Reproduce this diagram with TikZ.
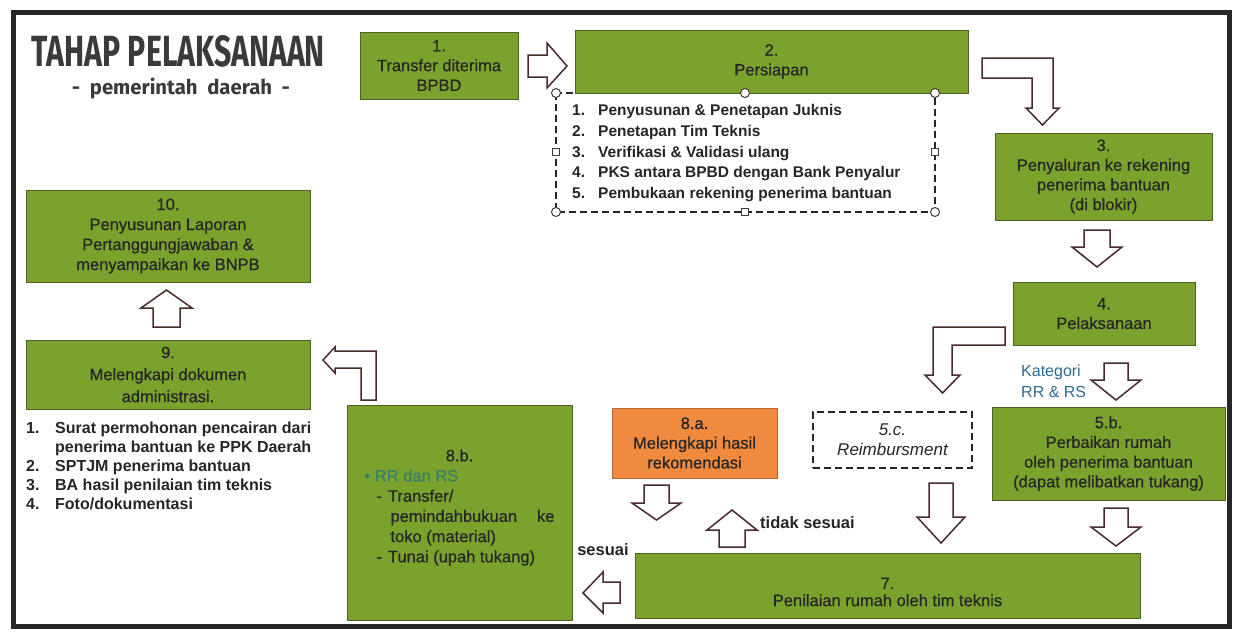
\documentclass[tikz,border=0pt]{standalone}
\usepackage{fontspec}
\setmainfont{Liberation Sans}
\newfontfamily\boxfont[FakeBold=0.6]{Liberation Sans}
\newfontfamily\titlefont{Fira Sans}
\definecolor{boxgreen}{RGB}{124,162,46}
\definecolor{boxedge}{RGB}{78,96,36}
\definecolor{orangebox}{RGB}{240,138,62}
\definecolor{arrowline}{RGB}{72,44,44}
\definecolor{txt}{RGB}{38,38,38}
\definecolor{titlegray}{RGB}{58,58,58}
\definecolor{katblue}{RGB}{46,108,146}
\definecolor{rrgreen}{RGB}{58,128,98}
\definecolor{handle}{RGB}{60,60,60}
\tikzset{
  gbox/.style={draw=boxedge, line width=0.8pt, fill=boxgreen, inner sep=0pt, align=center, text=txt, font=\boxfont\fontsize{16.5}{19.7}\selectfont},
  obox/.style={gbox, fill=orangebox, draw=orangebox!75!black},
  dbox/.style={draw=txt, line width=1.3pt, dash pattern=on 7pt off 4pt, fill=white, inner sep=0pt, align=center, text=txt, font=\fontsize{17}{20}\selectfont\itshape},
  hollow/.style={draw=arrowline, fill=white, line width=1.5pt, line join=miter},
  listtxt/.style={inner sep=0pt, text=txt, font=\fontsize{15.5}{20.7}\selectfont\bfseries, anchor=north west},
  lbl/.style={inner sep=0pt, text=txt, font=\fontsize{16.5}{19}\selectfont\bfseries},
  hcirc/.style={draw=handle, fill=white, line width=1pt, circle, inner sep=0pt, minimum size=9pt},
  hsq/.style={draw=handle, fill=white, line width=1pt, rectangle, inner sep=0pt, minimum size=7pt},
}
\begin{document}
\begin{tikzpicture}[x=1pt,y=-1pt]
\useasboundingbox (0,0) rectangle (1238,633);
\fill[white] (0,0) rectangle (1238,633);
\draw[line width=5pt, draw=black!85] (13,12) rectangle (1229,626);

% title
\node[inner sep=0pt, text=titlegray] (title) at (178.5,51.5) {\resizebox{293pt}{31pt}{\titlefont\bfseries TAHAP PELAKSANAAN}};
\node[inner sep=0pt, text=titlegray] (subtitle) at (181,89) {\resizebox*{218pt}{21pt}{\titlefont\bfseries -\ \ pemerintah\ \ daerah\ \ -}};

% boxes
\node[gbox, minimum width=158pt, minimum height=67pt] (b1) at (439,65.5) {1.\\Transfer diterima\\BPBD};
\draw[dbox] (556,93) rectangle (935,212);
\node[gbox, minimum width=393pt, minimum height=63pt] (b2) at (771.5,61.5) {2.\\Persiapan};
\node[gbox, minimum width=217pt, minimum height=87pt] (b3) at (1103.5,176.5) {3.\\Penyaluran ke rekening\\penerima bantuan\\(di blokir)};
\node[gbox, minimum width=182pt, minimum height=63pt] (b4) at (1104,313.5) {4.\\Pelaksanaan};
\node[gbox, minimum width=233pt, minimum height=93pt] (b5b) at (1108.5,453.5) {5.b.\\Perbaikan rumah\\oleh penerima bantuan\\(dapat melibatkan tukang)};
\node[dbox, minimum width=159pt, minimum height=56pt] (b5c) at (892.5,440) {5.c.\\Reimbursment};
\node[obox, minimum width=165pt, minimum height=70pt] (b8a) at (694.5,443) {8.a.\\Melengkapi hasil\\rekomendasi};
\node[gbox, minimum width=505pt, minimum height=65pt] (b7) at (887.5,585.5) {};
\node[inner sep=0pt, align=center, text=txt, font=\boxfont\fontsize{16.5}{17}\selectfont] (t7) at (887.5,592) {7.\\Penilaian rumah oleh tim teknis};
\node[gbox, minimum width=225pt, minimum height=215pt] (b8b) at (459.5,512.5) {\begin{minipage}{190pt}\boxfont\fontsize{16.5}{20.2}\selectfont
\centering 8.b.\par\raggedright
{\color{rrgreen}\textbullet\ RR dan RS}\par
\hspace*{12pt}-\hspace{6pt}Transfer/\par
\hspace*{26pt}pemindahbukuan\hfill ke\par
\hspace*{26pt}toko (material)\par
\hspace*{12pt}-\hspace{6pt}Tunai (upah tukang)\par
\vspace*{10pt}
\end{minipage}};
\node[gbox, minimum width=284pt, minimum height=69pt, font=\boxfont\fontsize{16.5}{22}\selectfont] (b9) at (168,374.5) {9.\\Melengkapi dokumen\\administrasi.};
\node[gbox, minimum width=284pt, minimum height=92pt, font=\boxfont\fontsize{16.5}{20}\selectfont] (b10) at (168,236) {10.\\Penyusunan Laporan\\Pertanggungjawaban \&\\menyampaikan ke BNPB};

% list under persiapan
\node[listtxt] (list2) at (572,101) {\begin{tabular}{@{}p{26pt}@{}l@{}}
1. & Penyusunan \& Penetapan Juknis\\
2. & Penetapan Tim Teknis\\
3. & Verifikasi \& Validasi ulang\\
4. & PKS antara BPBD dengan Bank Penyalur\\
5. & Pembukaan rekening penerima bantuan
\end{tabular}};
% handles
\node[hcirc] (h1) at (556,93) {};
\node[hcirc] (h2) at (745,93) {};
\node[hcirc] (h3) at (935,93) {};
\node[hcirc] (h4) at (556,212) {};
\node[hcirc] (h5) at (935,212) {};
\node[hsq] (h6) at (556,152) {};
\node[hsq] (h7) at (935,152) {};
\node[hsq] (h8) at (745,212) {};

% list under 9
\node[listtxt, font=\fontsize{16}{19}\selectfont\bfseries] (list9) at (26,420) {\begin{tabular}{@{}p{29pt}@{}l@{}}
1. & Surat permohonan pencairan dari\\
   & penerima bantuan ke PPK Daerah\\
2. & SPTJM penerima bantuan\\
3. & BA hasil penilaian tim teknis\\
4. & Foto/dokumentasi
\end{tabular}};

% labels
\node[lbl] (sesuai) at (603,550) {sesuai};
\node[lbl, anchor=west] (tidak) at (760,523) {tidak sesuai};
\node[inner sep=0pt, anchor=west, align=left, text=katblue, font=\fontsize{16}{21}\selectfont] (kat) at (1021,381) {Kategori\\RR \& RS};

% hollow block arrows
\draw[hollow] (528,55) -- (547,55) -- (547,43) -- (567,66) -- (547,88) -- (547,77) -- (528,77) -- cycle;
\draw[hollow] (982,58) -- (1053,58) -- (1053,108) -- (1059,108) -- (1042.5,125) -- (1026,108) -- (1032,108) -- (1032,78) -- (982,78) -- cycle;
\draw[hollow] (1084,230) -- (1110,230) -- (1110,247) -- (1122,247) -- (1097,267) -- (1072,247) -- (1084,247) -- cycle;
\draw[hollow] (1005,327) -- (933,327) -- (933,375) -- (925,375) -- (942.5,393) -- (960,375) -- (952,375) -- (952,345) -- (1005,345) -- cycle;
\draw[hollow] (1104,363) -- (1128,363) -- (1128,380) -- (1141,380) -- (1116,400) -- (1091,380) -- (1104,380) -- cycle;
\draw[hollow] (1104,508) -- (1128,508) -- (1128,527) -- (1141,527) -- (1116,546) -- (1091,527) -- (1104,527) -- cycle;
\draw[hollow] (929,483) -- (953,483) -- (953,517) -- (965,517) -- (941,543) -- (917,517) -- (929,517) -- cycle;
\draw[hollow] (644,485) -- (669,485) -- (669,503) -- (681,503) -- (656.5,520) -- (632,503) -- (644,503) -- cycle;
\draw[hollow] (719,547) -- (745,547) -- (745,530) -- (757,530) -- (732,510) -- (707,530) -- (719,530) -- cycle;
\draw[hollow] (620,582) -- (603,582) -- (603,572) -- (583,593) -- (603,613) -- (603,603) -- (620,603) -- cycle;
\draw[hollow] (361,400) -- (376,400) -- (376,351) -- (335,351) -- (335,347) -- (323,360) -- (335,373) -- (335,368) -- (361,368) -- cycle;
\draw[hollow] (153,327) -- (180,327) -- (180,308) -- (192,308) -- (166.5,290) -- (141,308) -- (153,308) -- cycle;
\end{tikzpicture}
\end{document}
